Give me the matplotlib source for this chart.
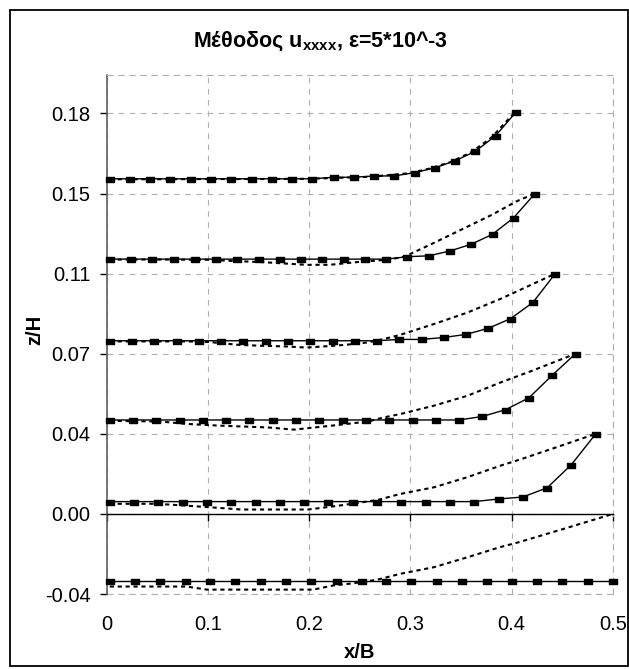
import matplotlib
matplotlib.use('Agg')
import matplotlib.pyplot as plt
from matplotlib.patches import Rectangle

plt.rcParams['font.family'] = ['Liberation Sans', 'DejaVu Sans']
plt.rcParams['mathtext.fontset'] = 'custom'
plt.rcParams['mathtext.rm'] = 'Liberation Sans'
plt.rcParams['mathtext.bf'] = 'Liberation Sans:bold'

# solid curves (with markers)
x1 = [0.003, 0.023, 0.043, 0.063, 0.083, 0.103, 0.123, 0.143, 0.163, 0.183, 0.203,
      0.224, 0.244, 0.264, 0.284, 0.304, 0.324, 0.344, 0.364, 0.384, 0.404]
y1 = [0.1527, 0.1527, 0.1527, 0.1527, 0.1527, 0.1527, 0.1527, 0.1527, 0.1527, 0.1527, 0.1527,
      0.1534, 0.1534, 0.1540, 0.1540, 0.1555, 0.1577, 0.1609, 0.1652, 0.1723, 0.1830]
x2 = [0.003, 0.024, 0.045, 0.066, 0.087, 0.108, 0.129, 0.150, 0.171, 0.192, 0.213,
      0.234, 0.255, 0.276, 0.297, 0.318, 0.339, 0.360, 0.381, 0.402, 0.423]
y2 = [0.1161, 0.1161, 0.1161, 0.1161, 0.1161, 0.1161, 0.1161, 0.1161, 0.1161, 0.1161, 0.1161,
      0.1161, 0.1161, 0.1161, 0.1172, 0.1176, 0.1198, 0.1229, 0.1274, 0.1350, 0.1460]
x3 = [0.003, 0.025, 0.047, 0.069, 0.091, 0.113, 0.135, 0.157, 0.179, 0.201, 0.223,
      0.245, 0.267, 0.289, 0.311, 0.333, 0.355, 0.377, 0.399, 0.421, 0.443]
y3 = [0.0789, 0.0789, 0.0789, 0.0789, 0.0789, 0.0789, 0.0789, 0.0789, 0.0789, 0.0789, 0.0789,
      0.0789, 0.0789, 0.0795, 0.0795, 0.0804, 0.0818, 0.0846, 0.0890, 0.0964, 0.1095]
x4 = [0.003, 0.026, 0.049, 0.072, 0.095, 0.118, 0.141, 0.164, 0.187, 0.210, 0.233,
      0.256, 0.279, 0.302, 0.325, 0.348, 0.371, 0.394, 0.417, 0.440, 0.463]
y4 = [0.0428, 0.0428, 0.0428, 0.0428, 0.0428, 0.0428, 0.0428, 0.0428, 0.0428, 0.0428, 0.0428,
      0.0428, 0.0428, 0.0428, 0.0428, 0.0428, 0.0444, 0.0475, 0.0529, 0.0632, 0.0730]
x5 = [0.003, 0.027, 0.051, 0.075, 0.099, 0.123, 0.147, 0.171, 0.195, 0.219, 0.243,
      0.267, 0.291, 0.315, 0.339, 0.363, 0.387, 0.411, 0.435, 0.459, 0.483]
y5 = [0.0056, 0.0056, 0.0056, 0.0056, 0.0056, 0.0056, 0.0056, 0.0056, 0.0056, 0.0056, 0.0056,
      0.0056, 0.0056, 0.0056, 0.0056, 0.0056, 0.0068, 0.0077, 0.0119, 0.0225, 0.0365]
x6 = [0.003, 0.028, 0.053, 0.078, 0.102, 0.127, 0.152, 0.177, 0.202, 0.227, 0.252,
      0.276, 0.301, 0.326, 0.351, 0.376, 0.400, 0.425, 0.450, 0.475, 0.500]
y6 = [-0.0308, -0.0308, -0.0308, -0.0308, -0.0308, -0.0308, -0.0308, -0.0308, -0.0308, -0.0308, -0.0308,
      -0.0308, -0.0308, -0.0308, -0.0308, -0.0308, -0.0308, -0.0308, -0.0308, -0.0308, -0.0308]

# dotted curves
dx1 = [0.003, 0.05, 0.10, 0.15, 0.20, 0.22, 0.26, 0.30, 0.32, 0.34, 0.36, 0.38, 0.40, 0.404]
dy1 = [0.1525, 0.1525, 0.1526, 0.1526, 0.1527, 0.1530, 0.1536, 0.1553, 0.1575, 0.1604, 0.1648,
       0.1715, 0.1815, 0.1830]
dx2 = [0.003, 0.05, 0.10, 0.123, 0.155, 0.197, 0.220, 0.253, 0.263, 0.28, 0.294, 0.32, 0.35,
       0.38, 0.405, 0.423]
dy2 = [0.1159, 0.1159, 0.1158, 0.1153, 0.1147, 0.1135, 0.1135, 0.1150, 0.1153, 0.1160, 0.1172,
       0.1228, 0.1295, 0.1362, 0.1425, 0.1460]
dx3 = [0.003, 0.08, 0.102, 0.131, 0.154, 0.177, 0.197, 0.224, 0.244, 0.257, 0.273, 0.290,
       0.323, 0.356, 0.389, 0.415, 0.443]
dy3 = [0.0786, 0.0786, 0.0783, 0.0770, 0.0766, 0.0763, 0.0758, 0.0766, 0.0774, 0.0781, 0.0796,
       0.0816, 0.0865, 0.0917, 0.0980, 0.1035, 0.1095]
dx4 = [0.003, 0.053, 0.079, 0.112, 0.159, 0.185, 0.224, 0.258, 0.274, 0.290, 0.323, 0.356,
       0.389, 0.42, 0.463]
dy4 = [0.0424, 0.0421, 0.0410, 0.0402, 0.0394, 0.0384, 0.0403, 0.0421, 0.0440, 0.0455, 0.0493,
       0.0538, 0.0599, 0.0652, 0.0730]
dx5 = [0.003, 0.049, 0.077, 0.103, 0.133, 0.166, 0.199, 0.225, 0.245, 0.268, 0.290, 0.323,
       0.356, 0.389, 0.407, 0.445, 0.483]
dy5 = [0.0046, 0.0046, 0.0038, 0.0030, 0.0020, 0.0020, 0.0020, 0.0035, 0.0048, 0.0064, 0.0091,
       0.0121, 0.0167, 0.0220, 0.0246, 0.0305, 0.0365]
dx6 = [0.003, 0.079, 0.099, 0.204, 0.224, 0.244, 0.267, 0.290, 0.323, 0.356, 0.388, 0.407,
       0.45, 0.5]
dy6 = [-0.0331, -0.0331, -0.0345, -0.0345, -0.0326, -0.0316, -0.0300, -0.0273, -0.0243, -0.0198,
       -0.0152, -0.0129, -0.0070, 0.0]

xticks = [0, 0.1, 0.2, 0.3, 0.4, 0.5]
xtick_labels = ['0', '0.1', '0.2', '0.3', '0.4', '0.5']
yticks = [-0.0365, 0.0, 0.0365, 0.073, 0.1095, 0.146, 0.1825]
ytick_labels = ['-0.04', '0.00', '0.04', '0.07', '0.11', '0.15', '0.18']

W, H = 629, 669
fig = plt.figure(figsize=(W / 100, H / 100), dpi=100)
ax = fig.add_axes([106.7 / W, 1 - 594 / H, (613 - 106.7) / W, (594 - 75) / H])

grid_col = '#b0b0b0'
dash = (0, (5, 5))
box = [(-1, -0.6), (1, -0.6), (1, 0.6), (-1, 0.6), (-1, -0.6)]

for xs, ys in [(x1, y1), (x2, y2), (x3, y3), (x4, y4), (x5, y5), (x6, y6)]:
    ax.plot(xs, ys, color='black', lw=1.0, marker=box, ms=6, zorder=3, clip_on=False)
for xs, ys in [(dx1, dy1), (dx2, dy2), (dx3, dy3), (dx4, dy4), (dx5, dy5), (dx6, dy6)]:
    ax.plot(xs, ys, color='black', lw=1.5, linestyle=(0, (2.0, 1.8)), zorder=4, clip_on=False)

ax.set_xlim(0, 0.5)
ax.set_ylim(-0.0365, 0.2)
ax.set_yticks(yticks, ytick_labels)
ax.set_xticks(xticks)
ax.grid(True, color=grid_col, linestyle=dash, lw=0.8)

ax.spines['bottom'].set_position(('data', 0))
ax.spines['bottom'].set_color('black')
ax.spines['bottom'].set_linewidth(1.0)
ax.spines['left'].set_color('#606060')
ax.spines['left'].set_linewidth(1.2)
for s in ['top', 'right']:
    ax.spines[s].set_color(grid_col)
    ax.spines[s].set_linestyle(dash)
    ax.spines[s].set_linewidth(0.8)

ax.tick_params(axis='x', direction='out', length=5, width=1, color='black', labelbottom=False)
ax.tick_params(axis='y', direction='out', length=4.8, width=1, color='black', pad=6.7, labelsize=14.5)

sec = ax.secondary_xaxis('bottom')
sec.set_xticks(xticks, xtick_labels)
sec.tick_params(length=0, pad=15, labelsize=14.5)
sec.spines['bottom'].set_color(grid_col)
sec.spines['bottom'].set_linestyle(dash)
sec.spines['bottom'].set_linewidth(0.8)

fig.text(320 / W, 1 - 41 / H, r'Μέθοδος $\mathbf{u_{xxxx}}$, ε=5*10^-3',
         ha='center', va='center', fontsize=15.5, fontweight='bold')
fig.text(360 / W, 1 - 653 / H, 'x/B', ha='center', va='center', fontsize=14.5, fontweight='bold')
fig.text(35 / W, 1 - 330 / H, 'z/H', ha='center', va='center', rotation=90,
         fontsize=14.5, fontweight='bold')

fig.patches.append(Rectangle((10 / W, 3 / H), 618 / W, 656 / H, transform=fig.transFigure,
                             fill=False, edgecolor='black', lw=1.3))

fig.savefig('out.png', dpi=100)
